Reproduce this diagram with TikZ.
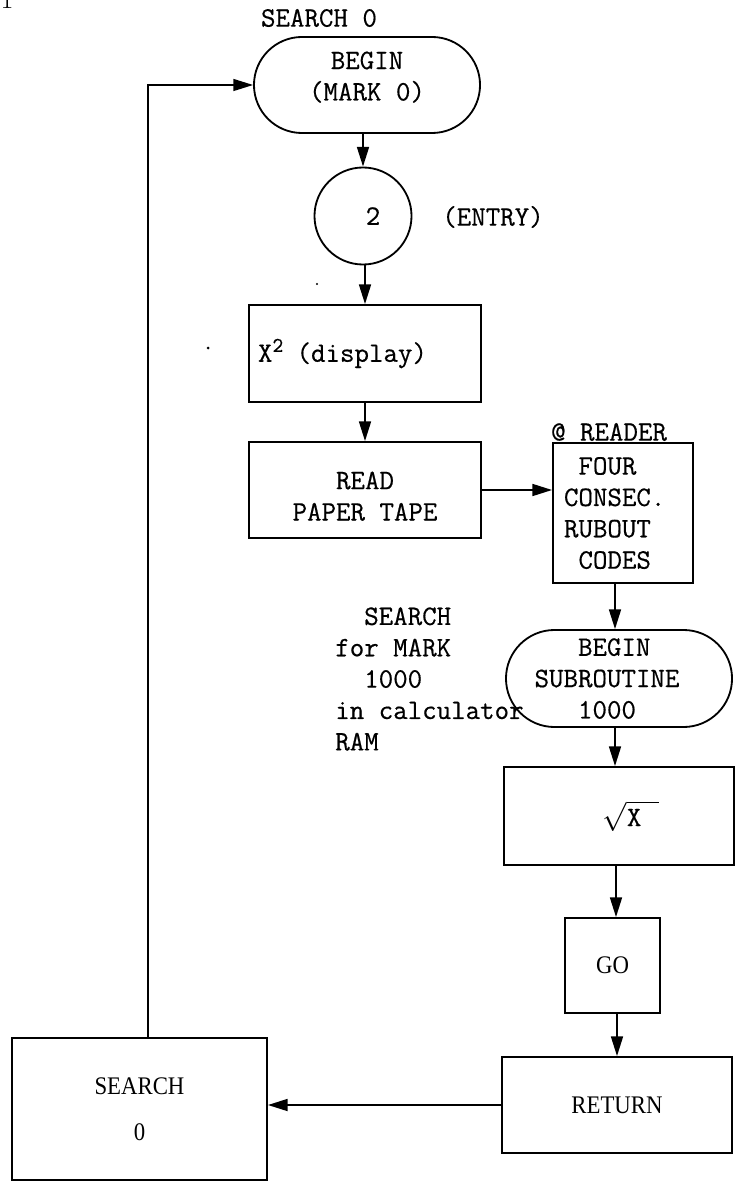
\documentclass[tikz,border=0pt]{standalone}
\usepackage{fontspec}
\setmonofont[FakeBold=0.5]{Latin Modern Mono}
\newfontfamily\propfont[FakeStretch=0.9]{Liberation Serif}
\usetikzlibrary{shapes.misc,shapes.geometric,arrows.meta}
\tikzset{
  tw/.style={font=\fontsize{20}{22.3}\selectfont\ttfamily},
  pf/.style={font=\fontsize{18}{32.7}\selectfont\propfont},
  boxnode/.style={draw, line width=1.3pt, inner sep=0pt, tw},
  termnode/.style={draw, rounded rectangle, line width=1.3pt, inner sep=0pt, tw, minimum width=5.65cm, minimum height=2.4cm},
  arr/.style={line width=1.3pt, -{Triangle[length=14pt,width=8.5pt]}},
  lbl/.style={tw, inner sep=0pt},
}
\begin{document}
\begin{tikzpicture}[x=0.025cm,y=-0.025cm]
\useasboundingbox (0,0) rectangle (735,1181);
\node[lbl, anchor=base, font=\fontsize{20}{20}\selectfont\rmfamily] (one) at (7,9) {1};
\node[lbl] (s0lbl) at (319,18) {SEARCH 0};
\node[termnode, align=center] (begin) at (367,85) {BEGIN\\(MARK 0)\rule[-0.45cm]{0pt}{0pt}};
\node[boxnode, circle, minimum size=2.425cm] (entry) at (363,216) {\rule{0.5cm}{0pt}2};
\node[lbl] (entrylbl) at (493,217) {(ENTRY)};
\node[boxnode, minimum height=2.425cm, text width=5.35cm, inner xsep=0.225cm, align=left] (x2) at (365,353.5) {X\makebox[0.525em][l]{\raisebox{7pt}{\fontsize{15}{15}\selectfont 2}} (display)};
\node[boxnode, minimum width=5.8cm, minimum height=2.4cm, align=center] (read) at (365,490) {\rule{0pt}{0.75cm}READ\\PAPER TAPE};
\node[boxnode, minimum height=3.5cm, text width=2.95cm, inner xsep=0.275cm, align=left] (four) at (623,513) {\phantom{A}FOUR\\CONSEC.\\RUBOUT\\\phantom{A}CODES};
\node[lbl] (readerlbl) at (609,432) {@ READER};
\node[lbl, anchor=west, align=left] (searchlbl) at (335,679) {\phantom{AA}SEARCH\\for MARK\\\phantom{AA}1000\\in calculator\\RAM};
\node[termnode, minimum height=2.425cm, align=left] (sub) at (619,678.5) {\phantom{AAA}BEGIN\\SUBROUTINE\rule{0.6cm}{0pt}\\\phantom{AAA}1000};
\node[boxnode, minimum width=5.75cm, minimum height=2.45cm] (sqrt) at (619,816) {\rule{0.6cm}{0pt}$\sqrt{\mbox{X}\rule{0.45cm}{0pt}}$};
\node[boxnode, pf, minimum width=2.375cm, minimum height=2.375cm] (go) at (612.5,965.5) {GO};
\node[boxnode, pf, minimum width=5.75cm, minimum height=2.4cm] (ret) at (617,1105) {RETURN};
\node[boxnode, pf, minimum width=6.375cm, minimum height=3.55cm, align=center] (search) at (139.5,1109) {SEARCH\\0};
\fill (208,348) circle (1.5);
\fill (317,284) circle (1.2);
\coordinate (a1) at ([xshift=-0.2cm]four.south);
\coordinate (a2) at ([xshift=-0.1cm]sub.south);
\coordinate (a3) at ([xshift=-0.075cm]sqrt.south);
\coordinate (a4) at ([xshift=0.2125cm]search.north);
\draw[arr] (entry.north |- begin.south) -- (entry.north);
\draw[arr] (x2.north |- entry.south) -- (x2.north);
\draw[arr] (x2.south) -- (read.north);
\draw[arr] (read.east) -- (read.east -| four.west);
\draw[arr] (a1) -- (a1 |- sub.north);
\draw[arr] (a2) -- (a2 |- sqrt.north);
\draw[arr] (a3) -- (a3 |- go.north);
\draw[arr] (ret.north |- go.south) -- (ret.north);
\draw[arr] (ret.west) -- (ret.west -| search.east);
\draw[arr, line width=1pt] (a4) |- (begin.west);
\end{tikzpicture}
\end{document}
